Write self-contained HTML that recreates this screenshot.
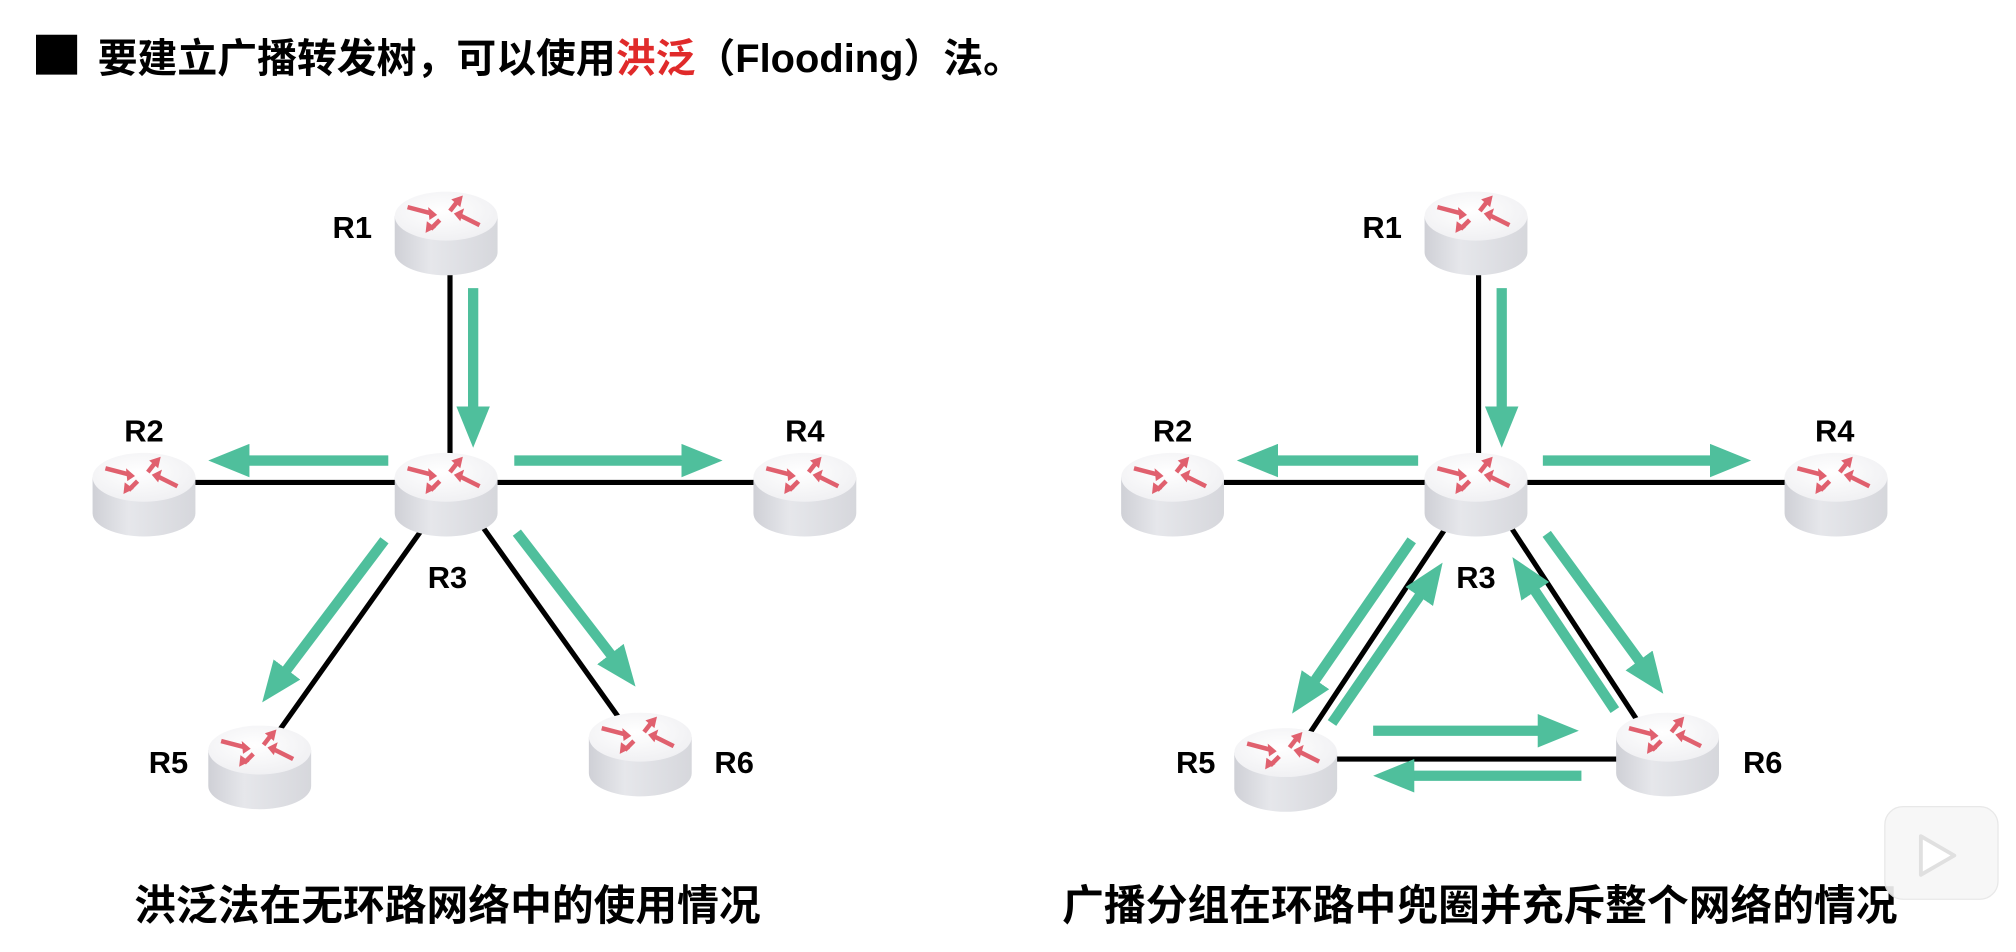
<!DOCTYPE html>
<html><head><meta charset="utf-8"><style>
html,body{margin:0;padding:0;background:#fff;width:2016px;height:952px;overflow:hidden}
svg{display:block}
text{font-family:"Liberation Sans","Noto Sans CJK SC",sans-serif;font-weight:bold}
</style></head><body>
<svg width="2016" height="952" viewBox="0 0 1568 740" preserveAspectRatio="none" xmlns="http://www.w3.org/2000/svg">
<defs>
<linearGradient id="body" x1="0" x2="1" y1="0" y2="0">
<stop offset="0" stop-color="#cfd0d6"/><stop offset="0.35" stop-color="#e6e7eb"/><stop offset="1" stop-color="#d6d7dc"/>
</linearGradient>
<radialGradient id="top" cx="0.45" cy="0.4" r="0.7">
<stop offset="0" stop-color="#ffffff"/><stop offset="1" stop-color="#eeeef1"/>
</radialGradient>
<marker id="ah" markerUnits="userSpaceOnUse" markerWidth="34" markerHeight="26" refX="2" refY="13" orient="auto">
<path d="M0,0 L32,13 L0,26 Z" fill="#4fbf9c"/>
</marker>
<g id="router">
<path d="M-40,-15 L-40,13 A40,18 0 0 0 40,13 L40,-15 Z" fill="url(#body)"/>
<ellipse cx="0" cy="-15" rx="40" ry="19" fill="url(#top)"/>
<g stroke="#e0606e" stroke-width="3.5" fill="#e0606e">
<line x1="-30" y1="-22" x2="-11" y2="-17"/><path d="M-7,-16 L-14,-22 L-13,-12 Z" stroke="none"/>
<line x1="3" y1="-19" x2="10" y2="-28"/><path d="M13,-31 L4,-28 L11,-22 Z" stroke="none"/>
<line x1="26" y1="-8" x2="10" y2="-16"/><path d="M6,-17 L14,-21 L11,-11 Z" stroke="none"/>
<line x1="-5" y1="-12" x2="-12" y2="-5"/><path d="M-16,-2 L-15,-11 L-8,-6 Z" stroke="none"/>
</g>
</g>
</defs>
<rect x="28" y="27" width="32" height="31" fill="#000"/>
<text x="76" y="56" font-size="31">要建立广播转发树，可以使用<tspan fill="#e02a2a">洪泛</tspan>（Flooding）法。</text>

<g stroke="#000" stroke-width="4">
<line x1="350" y1="200" x2="350" y2="370"/>
<line x1="112" y1="375" x2="626" y2="375"/>
<line x1="340" y1="395" x2="205" y2="585"/>
<line x1="365" y1="395" x2="490" y2="570"/>
<line x1="1150" y1="200" x2="1150" y2="370"/>
<line x1="912" y1="375" x2="1428" y2="375"/>
<line x1="1128" y1="405" x2="1012" y2="580"/>
<line x1="1172" y1="405" x2="1280" y2="570"/>
<line x1="1000" y1="590" x2="1297" y2="590"/>
</g>
<g stroke="#4fbf9c" stroke-width="8" marker-end="url(#ah)">
<line x1="368" y1="224" x2="368" y2="318"/>
<line x1="302" y1="358" x2="192" y2="358"/>
<line x1="400" y1="358" x2="532" y2="358"/>
<line x1="299" y1="420" x2="222" y2="522"/>
<line x1="402" y1="414" x2="476" y2="510"/>
<line x1="1168" y1="224" x2="1168" y2="318"/>
<line x1="1103" y1="358" x2="992" y2="358"/>
<line x1="1200" y1="358" x2="1332" y2="358"/>
<line x1="1098" y1="420" x2="1022" y2="530"/>
<line x1="1036" y1="562" x2="1105" y2="462"/>
<line x1="1203" y1="415" x2="1276" y2="515"/>
<line x1="1256" y1="552" x2="1193" y2="458"/>
<line x1="1068" y1="568" x2="1198" y2="568"/>
<line x1="1230" y1="603" x2="1098" y2="603"/>
</g>

<use href="#router" x="347" y="183"/>
<use href="#router" x="112" y="386"/>
<use href="#router" x="347" y="386"/>
<use href="#router" x="626" y="386"/>
<use href="#router" x="202" y="598"/>
<use href="#router" x="498" y="588"/>
<use href="#router" x="1148" y="183"/>
<use href="#router" x="912" y="386"/>
<use href="#router" x="1148" y="386"/>
<use href="#router" x="1428" y="386"/>
<use href="#router" x="1000" y="600"/>
<use href="#router" x="1297" y="588"/>

<g font-size="24" text-anchor="middle">
<text x="274" y="185">R1</text><text x="112" y="343">R2</text><text x="348" y="457">R3</text>
<text x="626" y="343">R4</text><text x="131" y="601">R5</text><text x="571" y="601">R6</text>
<text x="1075" y="185">R1</text><text x="912" y="343">R2</text><text x="1148" y="457">R3</text>
<text x="1427" y="343">R4</text><text x="930" y="601">R5</text><text x="1371" y="601">R6</text>
</g>
<g font-size="32.5" text-anchor="middle">
<text x="348" y="715">洪泛法在无环路网络中的使用情况</text>
<text x="1151" y="715">广播分组在环路中兜圈并充斥整个网络的情况</text>
</g>
<g opacity="0.9">
<rect x="1466" y="627" width="88" height="72" rx="14" fill="#f7f7f7" stroke="#e6e6e6"/>
<path d="M1494,650 L1520,665 L1494,680 Z" fill="#fff" stroke="#ddd" stroke-width="3" stroke-linejoin="round"/>
</g>
</svg>
</body></html>
